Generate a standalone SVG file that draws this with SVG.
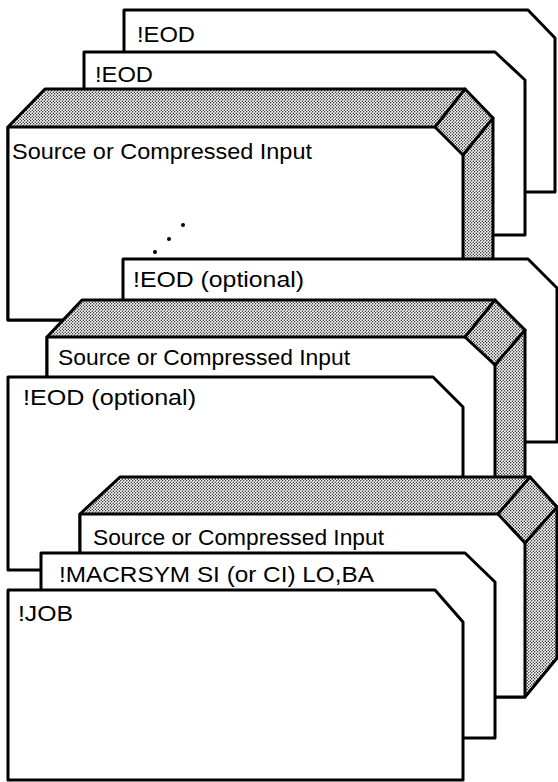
<svg xmlns="http://www.w3.org/2000/svg" width="558" height="782" viewBox="0 0 558 782">
<style>
.card{fill:#fff;stroke:#000;stroke-width:3;stroke-linejoin:round}
.shade{fill:url(#dots);stroke:#000;stroke-width:3;stroke-linejoin:round}
.edge{fill:none;stroke:#000;stroke-width:3;stroke-linecap:round}
.lbl{font-family:"Liberation Sans",Arial,sans-serif;font-size:22px;fill:#000}
</style>
<defs>
<pattern id="dots" width="3" height="3" patternUnits="userSpaceOnUse">
<rect width="3" height="3" fill="#fff"/>
<circle cx="0.75" cy="0.75" r="0.65" fill="#000"/>
<circle cx="2.25" cy="2.25" r="0.65" fill="#000"/>
</pattern>
</defs>
<rect width="558" height="782" fill="#fff"/>

<g id="card-eod-1">
<path class="card" d="M124,192 L124,10 L528,10 L555,38 L555,192 Z"/>
<text class="lbl" x="137" y="42" textLength="58" lengthAdjust="spacingAndGlyphs">!EOD</text>
</g>

<g id="card-eod-2">
<path class="card" d="M84,235 L84,52 L495,52 L525,80 L525,235 Z"/>
<text class="lbl" x="95" y="82" textLength="58" lengthAdjust="spacingAndGlyphs">!EOD</text>
</g>

<g id="deck-source-1">
<path class="shade" d="M8,127 L45,89 L465,89 L493,118 L493,283 L463,320 L8,320 Z"/>
<path class="card" d="M8,127 L435,127 L463,155 L463,320 L8,320 Z"/>
<path class="edge" d="M465,89 L435,127 M493,118 L463,155"/>
<text class="lbl" x="12" y="159" textLength="300" lengthAdjust="spacingAndGlyphs">Source or Compressed Input</text>
<circle cx="183" cy="225" r="2"/>
<circle cx="169" cy="239" r="2"/>
<circle cx="155" cy="252" r="2"/>
</g>

<g id="card-eod-optional-1">
<path class="card" d="M123,442 L123,259 L528,259 L557,288 L557,442 Z"/>
<text class="lbl" x="133" y="287" textLength="171" lengthAdjust="spacingAndGlyphs">!EOD (optional)</text>
</g>

<g id="deck-source-2">
<path class="shade" d="M47,337 L82,300 L495,300 L525,330 L525,480 L495,517 L47,517 Z"/>
<path class="card" d="M47,337 L465,337 L495,365 L495,517 L47,517 Z"/>
<path class="edge" d="M495,300 L465,337 M525,330 L495,365"/>
<text class="lbl" x="58" y="365" textLength="292" lengthAdjust="spacingAndGlyphs">Source or Compressed Input</text>
</g>

<g id="card-eod-optional-2">
<path class="card" d="M8,570 L8,377 L433,377 L463,407 L463,570 Z"/>
<text class="lbl" x="23" y="405" textLength="173" lengthAdjust="spacingAndGlyphs">!EOD (optional)</text>
</g>

<g id="deck-source-3">
<path class="shade" d="M80,514 L120,477 L530,477 L557,507 L557,658 L525,697 L80,697 Z"/>
<path class="card" d="M80,514 L498,514 L525,543 L525,697 L80,697 Z"/>
<path class="edge" d="M530,477 L498,514 M557,507 L525,543"/>
<text class="lbl" x="93" y="545" textLength="291" lengthAdjust="spacingAndGlyphs">Source or Compressed Input</text>
</g>

<g id="card-macrsym">
<path class="card" d="M41,738 L41,553 L465,553 L495,582 L495,738 Z"/>
<text class="lbl" x="59" y="582" textLength="315" lengthAdjust="spacingAndGlyphs">!MACRSYM SI (or CI) LO,BA</text>
</g>

<g id="card-job">
<path class="card" d="M8,780 L8,590 L435,590 L463,622 L463,780 Z"/>
<text class="lbl" x="18" y="621" textLength="55" lengthAdjust="spacingAndGlyphs">!JOB</text>
</g>
</svg>
